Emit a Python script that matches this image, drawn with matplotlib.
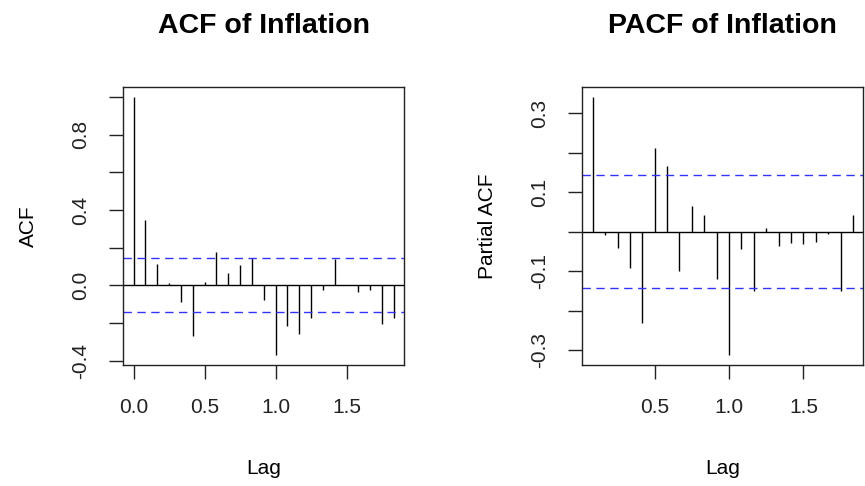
import matplotlib
matplotlib.use("Agg")
import matplotlib.pyplot as plt
import numpy as np

plt.rcParams['font.family'] = ['Liberation Sans', 'DejaVu Sans']

# monthly series, lag in years (k/12)
acf_lags = [k / 12 for k in range(0, 23)]
acf_vals = [1.0, 0.344, 0.115, 0.012, -0.090, -0.268, 0.018, 0.178, 0.066, 0.107, 0.146, -0.076,
            -0.369, -0.218, -0.257, -0.172, -0.023, 0.137, 0.002, -0.036, -0.028, -0.204, -0.172]

pacf_lags = [k / 12 for k in range(1, 23)]
pacf_vals = [0.341, -0.008, -0.040, -0.092, -0.232, 0.213, 0.167, -0.100, 0.066, 0.043, -0.119,
             -0.311, -0.044, -0.150, 0.009, -0.037, -0.029, -0.032, -0.026, -0.006, -0.150, 0.043]

conf_lim = 0.143

acf_yticks = [-0.4, -0.2, 0.0, 0.2, 0.4, 0.6, 0.8, 1.0]
acf_ylabels = ['-0.4', '', '0.0', '', '0.4', '', '0.8', '']
pacf_yticks = [-0.3, -0.2, -0.1, 0.0, 0.1, 0.2, 0.3]
pacf_ylabels = ['-0.3', '', '-0.1', '', '0.1', '', '0.3']

fig = plt.figure(figsize=(8.65, 4.86), dpi=100)
ax1 = fig.add_axes([0.1425, 0.249, 0.3249, 0.5726])
ax2 = fig.add_axes([0.6732, 0.249, 0.3249, 0.5726])


def draw_corr(ax, lags, vals, title, ylab, yticks, ylabels, xticks):
    ax.vlines(lags, 0, vals, color='black', lw=1.0)
    ax.axhline(0, color='black', lw=1.0)
    ax.axhline(conf_lim, color='#3333ff', lw=1.0, ls=(0, (6, 4)))
    ax.axhline(-conf_lim, color='#3333ff', lw=1.0, ls=(0, (6, 4)))
    # R style 4% padding
    lo, hi = min(lags), max(lags)
    pad = (hi - lo) * 0.04
    ax.set_xlim(lo - pad, hi + pad)
    ylo = min(min(vals), -conf_lim)
    yhi = max(max(vals), conf_lim)
    ypad = (yhi - ylo) * 0.04
    ax.set_ylim(ylo - ypad, yhi + ypad)
    ax.set_xticks(xticks)
    ax.set_xticklabels(['%.1f' % t for t in xticks])
    ax.set_yticks(yticks)
    ax.set_yticklabels(ylabels, rotation=90, va='center')
    ax.tick_params(length=10, width=1.0, pad=14, labelsize=15, colors='#222222')
    for s in ax.spines.values():
        s.set_linewidth(1.0)
        s.set_color('#222222')
    ax.set_xlabel('Lag', fontsize=15, labelpad=30)
    ax.set_ylabel(ylab, fontsize=15, labelpad=24)
    ax.set_title(title, fontsize=20.5, fontweight='bold', pad=39)


draw_corr(ax1, acf_lags, acf_vals, 'ACF of Inflation', 'ACF', acf_yticks, acf_ylabels,
          [0.0, 0.5, 1.0, 1.5])
draw_corr(ax2, pacf_lags, pacf_vals, 'PACF of Inflation', 'Partial ACF', pacf_yticks, pacf_ylabels,
          [0.5, 1.0, 1.5])

fig.savefig('out.png', dpi=100)
